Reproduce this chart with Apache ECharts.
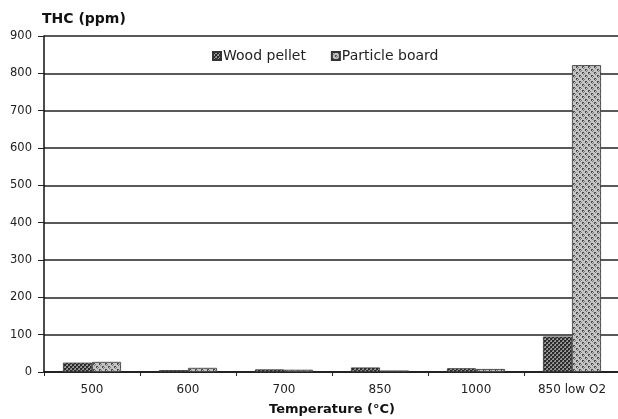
<!DOCTYPE html>
<html>
<head>
<meta charset="utf-8">
<script src="https://cdn.jsdelivr.net/npm/echarts@6/dist/echarts.min.js"></script>
<style>
  html, body { margin: 0; padding: 0; background: #fff; }
  #chart { width: 618px; height: 419px; }
</style>
</head>
<body>
<div id="chart"></div>
<script>
// Total hydrocarbon emissions by combustion temperature
const categories = ['500', '600', '700', '850', '1000', '850 low O2'];
const woodPellet = [25, 5, 7, 12, 10, 95];
const particleBoard = [27, 11, 6, 4, 8, 822];
const yTicks = { min: 0, max: 900, step: 100 };

// Hatched fill for the wood pellet bars
function crossHatch() {
  const c = document.createElement('canvas');
  c.width = 4; c.height = 4;
  const g = c.getContext('2d');
  g.fillStyle = '#9a9a9a';
  g.fillRect(0, 0, 4, 4);
  g.fillStyle = '#2a2a2a';
  g.fillRect(0, 0, 2, 2);
  g.fillRect(2, 2, 2, 2);
  g.fillStyle = '#5a5a5a';
  g.fillRect(2, 0, 1, 1);
  g.fillRect(0, 2, 1, 1);
  return c;
}

// Speckled fill for the particle board bars
function speckle() {
  const c = document.createElement('canvas');
  c.width = 6; c.height = 6;
  const g = c.getContext('2d');
  g.fillStyle = '#c4c4c4';
  g.fillRect(0, 0, 6, 6);
  g.fillStyle = '#4a4a4a';
  g.fillRect(0, 0, 2, 1);
  g.fillRect(0, 1, 1, 1);
  g.fillRect(3, 3, 2, 1);
  g.fillRect(3, 4, 1, 1);
  g.fillStyle = '#7a7a7a';
  g.fillRect(2, 1, 1, 1);
  g.fillRect(5, 4, 1, 1);
  g.fillRect(1, 2, 1, 1);
  g.fillRect(4, 5, 1, 1);
  return c;
}

const font = '"DejaVu Sans", Verdana, sans-serif';
const chart = echarts.init(document.getElementById('chart'), null, { renderer: 'canvas' });

chart.setOption({
  animation: false,
  backgroundColor: '#fff',
  textStyle: { fontFamily: font },
  grid: { left: 44, top: 36, width: 576, height: 336, containLabel: false, outerBoundsMode: 'none' },
  legend: {
    left: 212,
    top: 49,
    padding: 0,
    itemWidth: 8,
    itemHeight: 8,
    itemGap: 25,
    icon: 'rect',
    textStyle: { fontFamily: font, fontSize: 14, color: '#222', padding: [0, 0, 0, -3] },
    data: ['Wood pellet', 'Particle board']
  },
  xAxis: {
    type: 'category',
    data: categories,
    name: 'Temperature (°C)',
    nameLocation: 'middle',
    nameGap: 31,
    nameTextStyle: { fontFamily: font, fontSize: 13, fontWeight: 'bold', color: '#111' },
    axisLine: { lineStyle: { color: '#111', width: 1.5 } },
    axisTick: { show: true, inside: false, length: 4, lineStyle: { color: '#222' } },
    axisLabel: { fontFamily: font, fontSize: 12, color: '#222', margin: 12 }
  },
  yAxis: {
    type: 'value',
    min: yTicks.min,
    max: yTicks.max,
    interval: yTicks.step,
    name: 'THC (ppm)',
    nameLocation: 'end',
    nameGap: 10,
    nameTextStyle: { fontFamily: font, fontSize: 14, fontWeight: 'bold', color: '#111', align: 'left', padding: [0, 0, 0, -2] },
    axisLine: { show: true, lineStyle: { color: '#111', width: 1.5 } },
    axisTick: { show: true, inside: false, length: 6, lineStyle: { color: '#222' } },
    axisLabel: { fontFamily: font, fontSize: 11.5, color: '#222', margin: 12 },
    splitLine: { show: true, lineStyle: { color: '#222', width: 1.5 } }
  },
  series: [
    {
      name: 'Wood pellet',
      type: 'bar',
      data: woodPellet,
      barWidth: 29,
      barGap: '0%',
      itemStyle: { color: { image: crossHatch(), repeat: 'repeat' }, borderColor: '#333', borderWidth: 0.8 }
    },
    {
      name: 'Particle board',
      type: 'bar',
      data: particleBoard,
      barWidth: 29,
      barGap: '0%',
      itemStyle: { color: { image: speckle(), repeat: 'repeat' }, borderColor: '#333', borderWidth: 0.8 }
    }
  ]
});
</script>
</body>
</html>
